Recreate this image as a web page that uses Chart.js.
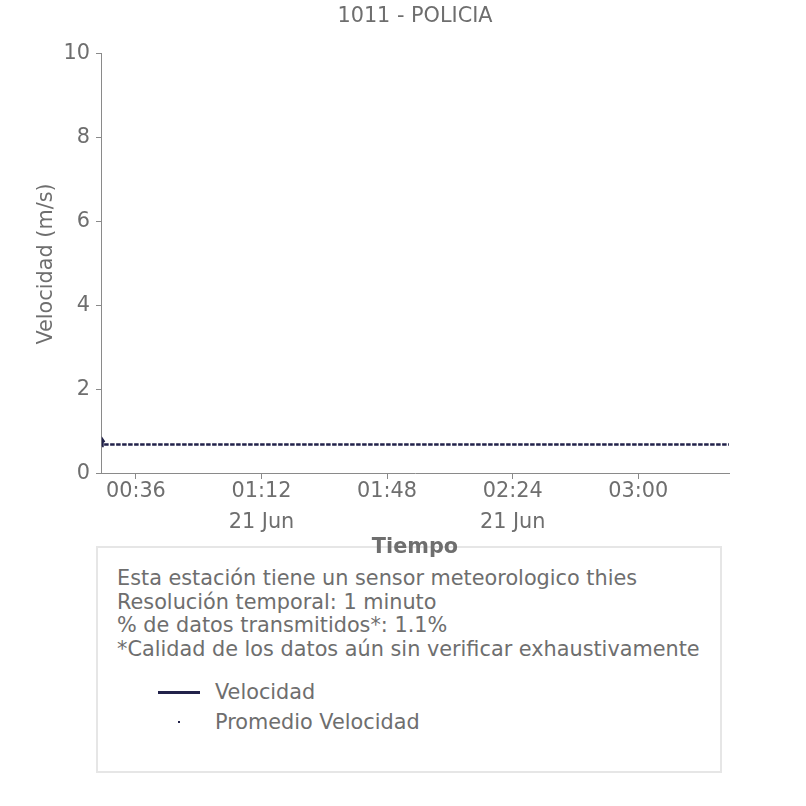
<!DOCTYPE html>
<html>
<head>
<meta charset="utf-8">
<script src="https://cdn.jsdelivr.net/npm/chart.js@4"></script>
<style>
  body { margin:0; background:#fff; font-family:"DejaVu Sans", sans-serif; }
  #wrap { position:relative; width:806px; height:806px; }
  #box {
    position:absolute; left:96px; top:546px; width:622px; height:223px;
    border:2px solid #e6e6e6; color:#6e6e6e; font-size:20.8px;
  }
  #notes { position:absolute; left:19px; top:19px; line-height:23.7px; white-space:nowrap; }
  .item { position:absolute; left:60px; height:30px; white-space:nowrap; }
  .item span { position:absolute; left:57px; top:-12px; }
  #c { position:absolute; left:0; top:2px; }
</style>
</head>
<body>
<div id="wrap">
  <div id="box">
    <div id="notes">
      Esta estación tiene un sensor meteorologico thies<br>
      Resolución temporal: 1 minuto<br>
      % de datos transmitidos*: 1.1%<br>
      *Calidad de los datos aún sin verificar exhaustivamente
    </div>
    <div class="item" style="top:144px">
      <div style="position:absolute;left:0;top:-1px;width:42px;height:2.5px;background:#22224a"></div>
      <span>Velocidad</span>
    </div>
    <div class="item" style="top:174px">
      <div style="position:absolute;left:20px;top:-1px;width:2px;height:2px;background:#22224a"></div>
      <span>Promedio Velocidad</span>
    </div>
  </div>
  <canvas id="c" width="806" height="560"></canvas>
</div>
<script>
// ======================
// DATA (x in minutes after 00:00, 21 Jun)
// ======================
const xMin = 26;
const xMax = 206;
const tickMinutes = [36, 72, 108, 144, 180];
const tickLabels = [["00:36"], ["01:12", "21 Jun"], ["01:48"], ["02:24", "21 Jun"], ["03:00"]];

const velTimes = [26.3, 26.5, 27.0];
const velValues = [0.66, 0.82, 0.76];

const promTimes = [26.9, 206];
const promValues = [0.7, 0.7];

const yTicks = [0, 2, 4, 6, 8, 10];

const grey = "#6e6e6e";
const axisGrey = "#8a8a8a";
const navy = "#22224a";
const fs = 20.8;

const toPts = (xs, ys) => xs.map((x, i) => ({x: x, y: ys[i]}));

new Chart(document.getElementById("c"), {
  type: "line",
  data: {
    datasets: [
      {
        label: "Velocidad",
        data: toPts(velTimes, velValues),
        borderColor: navy,
        borderWidth: 2,
        pointRadius: 0,
        tension: 0
      },
      {
        label: "Promedio Velocidad",
        data: toPts(promTimes, promValues),
        borderColor: navy,
        borderWidth: 2.5,
        borderDash: [4.5, 1.5],
        pointRadius: 0,
        tension: 0
      }
    ]
  },
  options: {
    responsive: false,
    animation: false,
    layout: { padding: { left: 0, right: 77, top: 0, bottom: 0 } },
    plugins: {
      legend: { display: false },
      tooltip: { enabled: false },
      title: {
        display: true,
        fullSize: false,
        text: "1011 - POLICIA",
        color: grey,
        font: { family: "DejaVu Sans", size: fs, weight: "normal", lineHeight: 1.2 },
        padding: { top: 2, bottom: 25 }
      }
    },
    scales: {
      x: {
        type: "linear",
        min: xMin,
        max: xMax,
        afterFit: s => { s.height = 88; },
        afterBuildTicks: s => { s.ticks = tickMinutes.map(v => ({value: v})); },
        ticks: {
          color: grey,
          padding: -2,
          maxRotation: 0,
          font: { family: "DejaVu Sans", size: fs, lineHeight: 1.45 },
          callback: v => tickLabels[tickMinutes.indexOf(v)]
        },
        grid: { drawOnChartArea: false, drawTicks: true, tickLength: 5, color: axisGrey },
        border: { display: true, color: axisGrey, width: 1 },
        title: {
          display: true,
          text: "Tiempo",
          color: grey,
          font: { family: "DejaVu Sans", size: fs, weight: "bold", lineHeight: 1.2 },
          padding: { top: 0, bottom: 2 }
        }
      },
      y: {
        min: 0,
        max: 10,
        afterFit: s => { s.width = 101; },
        afterBuildTicks: s => { s.ticks = yTicks.map(v => ({value: v})); },
        ticks: {
          color: grey,
          padding: 6,
          font: { family: "DejaVu Sans", size: fs }
        },
        grid: { drawOnChartArea: false, drawTicks: true, tickLength: 5, color: axisGrey },
        border: { display: true, color: axisGrey, width: 1 },
        title: {
          display: true,
          text: "Velocidad (m/s)",
          color: grey,
          font: { family: "DejaVu Sans", size: fs, lineHeight: 1.2 },
          padding: { top: 34, bottom: 0 }
        }
      }
    }
  }
});
</script>
</body>
</html>
